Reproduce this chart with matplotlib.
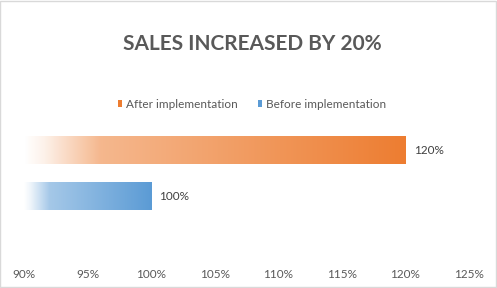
import numpy as np
import matplotlib.pyplot as plt
from matplotlib.patches import Patch, Rectangle
from matplotlib.colors import to_rgb

# data
series = ["After implementation", "Before implementation"]
values = [120, 100]            # percent
colors = ["#ED7D31", "#5B9BD5"]
ypos = [1, 0]
xticks = [90, 95, 100, 105, 110, 115, 120, 125]
base = 90
title = "SALES INCREASED BY 20%"

plt.rcParams['font.family'] = ['Lato', 'DejaVu Sans']
grey = "#595959"

fig = plt.figure(figsize=(4.97, 2.88), dpi=100)
ax = fig.add_axes([24 / 497, 26 / 288, 445 / 497, 135 / 288])

# gradient: transparent-ish white on the left to full colour on the right
t = np.linspace(0, 1, 256)
alpha = np.interp(t, [0, 0.05, 0.2, 1], [0.0, 0.1, 0.55, 1.0])

for y, v, c in zip(ypos, values, colors):
    bars = ax.barh(y, v - base, left=base, height=0.61, color=c, linewidth=0)
    bar = bars.patches[0]
    rgb = np.array(to_rgb(c))
    img = (1 - alpha[:, None]) * np.ones(3) + alpha[:, None] * rgb
    im = ax.imshow(img[None, :, :], extent=(base, v, y - 0.305, y + 0.305),
                   aspect='auto', zorder=3, interpolation='bilinear')
    im.set_clip_path(bar)
    ax.annotate(f"{v}%", xy=(v, y), xytext=(6, 0), textcoords='offset points',
                ha='left', va='center', fontsize=8.5, color="#404040")

ax.set_xlim(90, 125)
ax.set_ylim(-1.43, 1.5)
ax.set_xticks(xticks)
ax.set_xticklabels([f"{v}%" for v in xticks])
ax.set_yticks([])
ax.tick_params(axis='x', length=0, pad=5, labelsize=8.5, labelcolor=grey)
for s in ax.spines.values():
    s.set_visible(False)

fig.text(252 / 497, 1 - 44 / 288, title, ha='center', va='center',
         fontsize=15, fontweight='bold', color=grey)

handles = [Patch(facecolor=c, edgecolor='none') for c in colors]
fig.legend(handles, series, loc='center', bbox_to_anchor=(252 / 497, 1 - 104 / 288),
           ncol=2, frameon=False, fontsize=8.5, labelcolor=grey,
           handlelength=0.35, handleheight=0.6, handletextpad=0.3,
           columnspacing=1.7)

# chart border
fig.patches.append(Rectangle((0.001, 0.002), 0.997, 0.995, transform=fig.transFigure,
                             fill=False, edgecolor="#D9D9D9", linewidth=1))

fig.savefig("out.png", dpi=100)
